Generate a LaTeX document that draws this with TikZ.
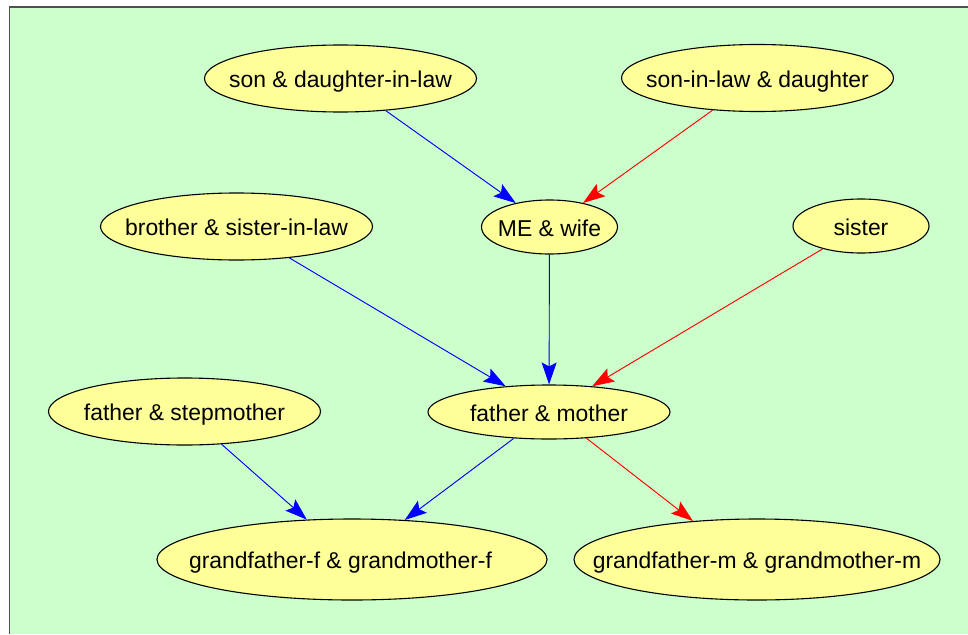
\documentclass[tikz,border=0pt]{standalone}
\usepackage{fontspec}
\setmainfont{Liberation Sans}
\usetikzlibrary{shapes.geometric,arrows.meta}
\definecolor{bgcol}{HTML}{CCFFCC}
\definecolor{nodefill}{HTML}{FFFF99}
\definecolor{framecol}{HTML}{505050}
\newcommand{\ctr}[1]{\makebox[0pt][c]{#1}}
\begin{document}
\begin{tikzpicture}[x=1pt,y=-1pt,
  fam/.style={ellipse, draw=black, line width=1.1pt, fill=nodefill, inner sep=0pt,
    text height=23pt, text depth=5pt, font=\fontsize{22.9}{27}\selectfont},
  wide/.style={fam, minimum width=272pt, minimum height=67pt},
  small/.style={fam, minimum width=136pt, minimum height=54pt},
  tip/.style={-{Stealth[length=22pt,width=15pt,inset=4pt]}, line width=0.9pt},
  blueedge/.style={tip, draw=blue, fill=blue},
  rededge/.style={tip, draw=red, fill=red}
]
\useasboundingbox (0,0) rectangle (968,634);
\fill[bgcol] (9.5,7.3) rectangle (968,634);
\draw[framecol, line width=1.6pt] (9.5,634) -- (9.5,7.3) -- (968,7.3);

\node[wide] (sd)  at (340.5,78.5) {\ctr{son \& daughter-in-law}};
\node[wide] (sld) at (757.5,78) {\ctr{son-in-law \& daughter}};
\node[wide] (bsl) at (236.5,226.5) {\ctr{brother \& sister-in-law}};
\node[small] (me) at (549.5,227) {\ctr{ME \& wife}};
\node[small] (sis) at (861,226) {\ctr{sister}};
\node[wide] (fsm) at (184.5,411.5) {\ctr{father \& stepmother}};
\node[fam, minimum width=242pt, minimum height=54pt] (fm) at (549,412) {\ctr{father \& mother}};
\node[fam, minimum width=390pt, minimum height=81pt] (gff) at (352,559.5) {\ctr{grandfather-f \& grandmother-f\hspace*{23pt}}};
\node[fam, minimum width=366pt, minimum height=81pt] (gfm) at (757,559.5) {\ctr{grandfather-m \& grandmother-m}};

\draw[blueedge] (sd) -- (me);
\draw[rededge] (sld) -- (me);
\draw[blueedge] (me) -- (fm);
\draw[blueedge] (bsl) -- (fm);
\draw[rededge] (sis) -- (fm);
\draw[blueedge] (fsm) -- (gff);
\draw[blueedge] (fm) -- (gff);
\draw[rededge] (fm.-35.5) -- (gfm.149);
\end{tikzpicture}
\end{document}
